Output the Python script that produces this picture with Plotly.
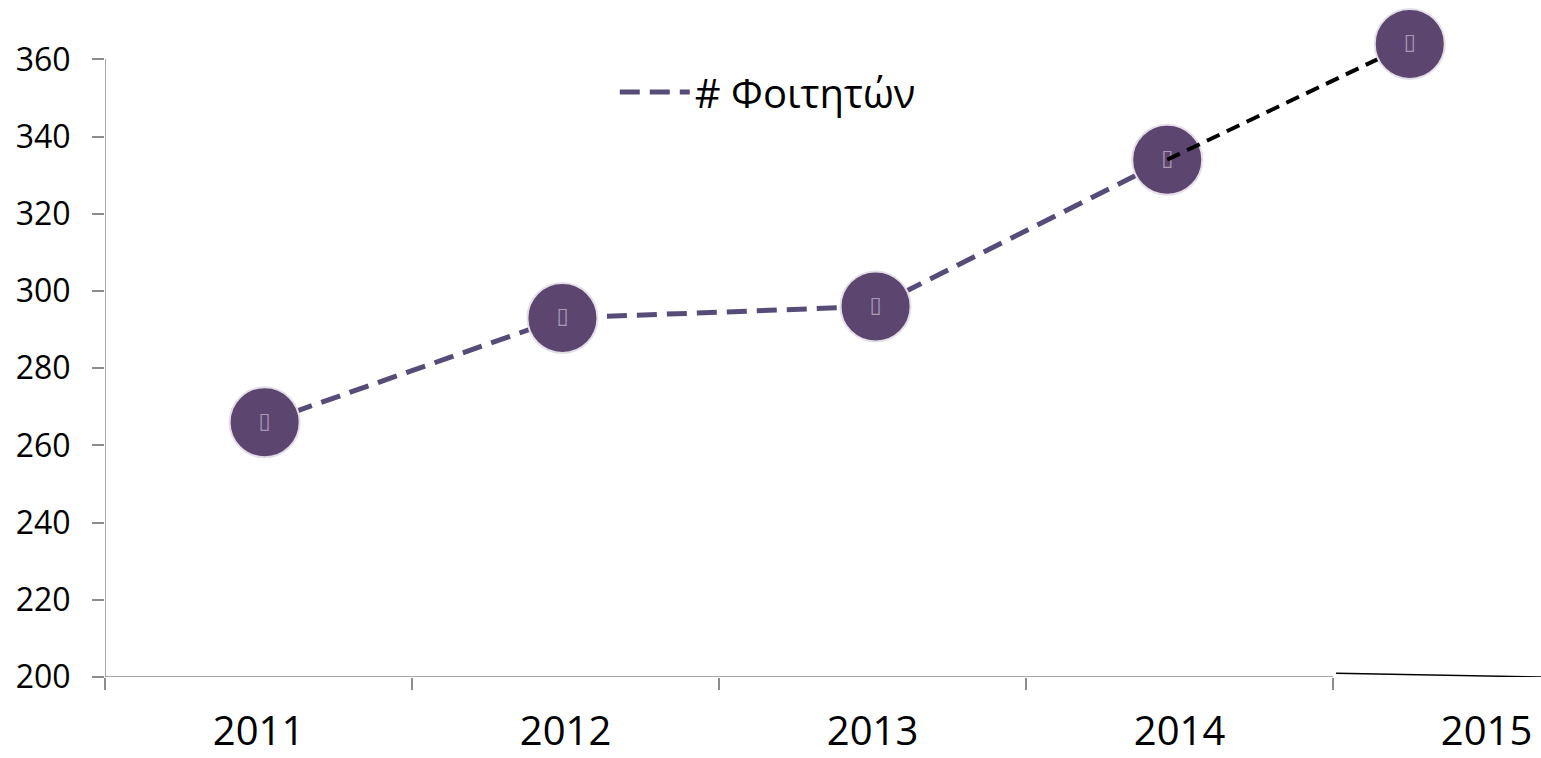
import plotly.graph_objects as go

years = [2011, 2012, 2013, 2014, 2015]
year_labels = ["2011", "2012", "2013", "2014", "2015"]
# marker positions (in year units, slightly off the category centres)
x_pos = [2011.02, 2011.99, 2013.01, 2013.96, 2014.75]
students = [266, 293, 296, 334, 364]
y_ticks = [200, 220, 240, 260, 280, 300, 320, 340, 360]
series_name = "# Φοιτητών"
glyph = "▯"

FONT = "Open Sans"
LINE_C = "#574C78"
MARK_C = "#5C456F"
AXIS_C = "#8C8C8C"
GLYPH_C = "#A99BB5"

fig = go.Figure()

marker_style = dict(size=70, color=MARK_C, line=dict(color="#E4DEE8", width=2))
glyph_font = dict(family="DejaVu Sans", size=22, color=GLYPH_C)

# purple dashed line 2011-2014
fig.add_trace(go.Scatter(
    x=x_pos[:4], y=students[:4], mode="lines", name=series_name,
    line=dict(color=LINE_C, width=5, dash="20px,10px"),
    showlegend=True, hoverinfo="skip"))
# markers 2011-2014
fig.add_trace(go.Scatter(
    x=x_pos[:4], y=students[:4], mode="markers+text", showlegend=False,
    marker=marker_style, text=[glyph] * 4, textposition="middle center",
    textfont=glyph_font, cliponaxis=False))
# black dashed segment 2014-2015
fig.add_trace(go.Scatter(
    x=x_pos[3:], y=students[3:], mode="lines", showlegend=False,
    line=dict(color="#000000", width=4, dash="14px,8px"),
    hoverinfo="skip"))
# 2015 marker
fig.add_trace(go.Scatter(
    x=x_pos[4:], y=students[4:], mode="markers+text", showlegend=False,
    marker=marker_style, text=[glyph], textposition="middle center",
    textfont=glyph_font, cliponaxis=False))

x_lo = 2010.5
x_hi = 2010.5 + 1436 / 307.0
y_lo, y_top, y_hi = 200, 360, 372
boundaries = [y - 0.5 for y in years]

fig.update_layout(
    width=1541, height=758,
    margin=dict(l=105, r=0, t=13, b=81),
    paper_bgcolor="white", plot_bgcolor="white",
    font=dict(family=FONT, color="#000000"),
    showlegend=True,
    legend=dict(x=0.355, y=0.881, xanchor="left", yanchor="middle",
                bgcolor="rgba(0,0,0,0)", font=dict(size=40, family=FONT),
                itemwidth=70),
    xaxis=dict(range=[x_lo, x_hi], showgrid=False, zeroline=False, showline=False,
               automargin=False,
               tickvals=years, ticktext=year_labels, ticks="",
               tickfont=dict(size=40, family=FONT), ticklabelstandoff=27,
               minor=dict(tickvals=boundaries, ticks="outside", ticklen=12,
                          tickcolor=AXIS_C, tickwidth=1.5)),
    yaxis=dict(range=[y_lo, y_hi], showgrid=False, zeroline=False, showline=False,
               automargin=False, tickvals=y_ticks,
               ticks="outside", ticklen=12, tickcolor=AXIS_C, tickwidth=1.5,
               tickfont=dict(size=32, family=FONT), ticklabelstandoff=15),
)

# y axis line (ends at the top tick)
fig.add_shape(type="line", xref="x", yref="y", x0=x_lo, x1=x_lo, y0=y_lo, y1=y_top,
              line=dict(color=AXIS_C, width=1.5), layer="below")
# x axis line (gray up to last boundary) and the stray black line beyond it
fig.add_shape(type="line", xref="x", yref="y", x0=x_lo, x1=boundaries[-1], y0=y_lo, y1=y_lo,
              line=dict(color=AXIS_C, width=1.5), layer="below")
fig.add_shape(type="line", xref="x", yref="y", x0=boundaries[-1] + 0.01, x1=x_hi, y0=201.0, y1=200.0,
              line=dict(color="#000000", width=1.5), layer="below")

fig.write_html("out.html", config={"displayModeBar": False},
               post_script="document.body.style.margin='0';")
